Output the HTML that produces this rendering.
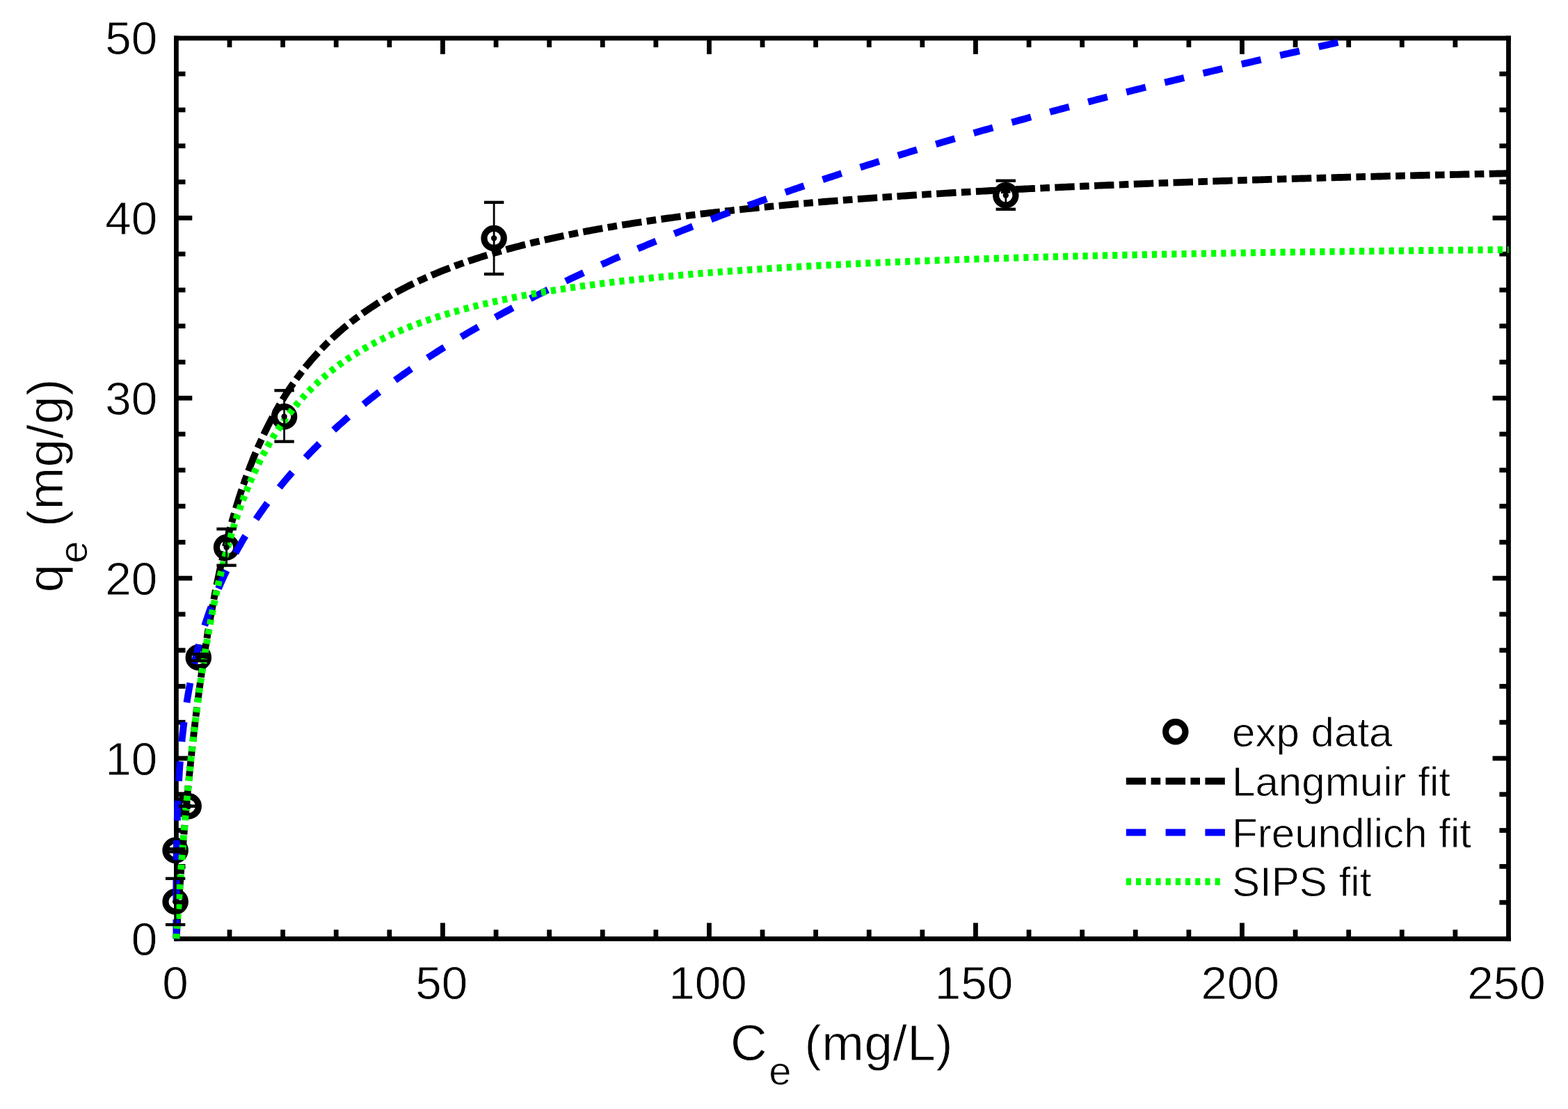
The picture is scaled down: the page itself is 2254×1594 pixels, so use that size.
<!DOCTYPE html>
<html lang="en"><head><meta charset="utf-8"><title>Adsorption isotherm</title>
<style>html,body{margin:0;padding:0;background:#fff}body{width:2254px;height:1594px;overflow:hidden}svg{display:block}text{font-family:"Liberation Sans",Arial,Helvetica,sans-serif;fill:#000;stroke:#fff;stroke-width:0.8px}</style>
</head><body>
<svg width="2254" height="1594" viewBox="0 0 2254 1594">
<rect x="0" y="0" width="2254" height="1594" fill="#fff"/>
<g id="axes" fill="#000" stroke="none">
<rect x="250.00" y="51.50" width="1921.90" height="6.80"/>
<rect x="250.00" y="1346.00" width="1921.90" height="6.80"/>
<rect x="250.00" y="51.50" width="6.80" height="1301.30"/>
<rect x="2165.10" y="51.50" width="6.80" height="1301.30"/>
<rect x="326.60" y="1336.30" width="6.80" height="10.70"/>
<rect x="326.60" y="57.30" width="6.80" height="10.70"/>
<rect x="403.21" y="1336.30" width="6.80" height="10.70"/>
<rect x="403.21" y="57.30" width="6.80" height="10.70"/>
<rect x="479.81" y="1336.30" width="6.80" height="10.70"/>
<rect x="479.81" y="57.30" width="6.80" height="10.70"/>
<rect x="556.42" y="1336.30" width="6.80" height="10.70"/>
<rect x="556.42" y="57.30" width="6.80" height="10.70"/>
<rect x="633.02" y="1326.50" width="6.80" height="20.50"/>
<rect x="633.02" y="57.30" width="6.80" height="20.50"/>
<rect x="709.62" y="1336.30" width="6.80" height="10.70"/>
<rect x="709.62" y="57.30" width="6.80" height="10.70"/>
<rect x="786.23" y="1336.30" width="6.80" height="10.70"/>
<rect x="786.23" y="57.30" width="6.80" height="10.70"/>
<rect x="862.83" y="1336.30" width="6.80" height="10.70"/>
<rect x="862.83" y="57.30" width="6.80" height="10.70"/>
<rect x="939.44" y="1336.30" width="6.80" height="10.70"/>
<rect x="939.44" y="57.30" width="6.80" height="10.70"/>
<rect x="1016.04" y="1326.50" width="6.80" height="20.50"/>
<rect x="1016.04" y="57.30" width="6.80" height="20.50"/>
<rect x="1092.64" y="1336.30" width="6.80" height="10.70"/>
<rect x="1092.64" y="57.30" width="6.80" height="10.70"/>
<rect x="1169.25" y="1336.30" width="6.80" height="10.70"/>
<rect x="1169.25" y="57.30" width="6.80" height="10.70"/>
<rect x="1245.85" y="1336.30" width="6.80" height="10.70"/>
<rect x="1245.85" y="57.30" width="6.80" height="10.70"/>
<rect x="1322.46" y="1336.30" width="6.80" height="10.70"/>
<rect x="1322.46" y="57.30" width="6.80" height="10.70"/>
<rect x="1399.06" y="1326.50" width="6.80" height="20.50"/>
<rect x="1399.06" y="57.30" width="6.80" height="20.50"/>
<rect x="1475.66" y="1336.30" width="6.80" height="10.70"/>
<rect x="1475.66" y="57.30" width="6.80" height="10.70"/>
<rect x="1552.27" y="1336.30" width="6.80" height="10.70"/>
<rect x="1552.27" y="57.30" width="6.80" height="10.70"/>
<rect x="1628.87" y="1336.30" width="6.80" height="10.70"/>
<rect x="1628.87" y="57.30" width="6.80" height="10.70"/>
<rect x="1705.48" y="1336.30" width="6.80" height="10.70"/>
<rect x="1705.48" y="57.30" width="6.80" height="10.70"/>
<rect x="1782.08" y="1326.50" width="6.80" height="20.50"/>
<rect x="1782.08" y="57.30" width="6.80" height="20.50"/>
<rect x="1858.68" y="1336.30" width="6.80" height="10.70"/>
<rect x="1858.68" y="57.30" width="6.80" height="10.70"/>
<rect x="1935.29" y="1336.30" width="6.80" height="10.70"/>
<rect x="1935.29" y="57.30" width="6.80" height="10.70"/>
<rect x="2011.89" y="1336.30" width="6.80" height="10.70"/>
<rect x="2011.89" y="57.30" width="6.80" height="10.70"/>
<rect x="2088.50" y="1336.30" width="6.80" height="10.70"/>
<rect x="2088.50" y="57.30" width="6.80" height="10.70"/>
<rect x="255.80" y="1293.72" width="10.70" height="6.80"/>
<rect x="2155.40" y="1293.72" width="10.70" height="6.80"/>
<rect x="255.80" y="1241.94" width="10.70" height="6.80"/>
<rect x="2155.40" y="1241.94" width="10.70" height="6.80"/>
<rect x="255.80" y="1190.16" width="10.70" height="6.80"/>
<rect x="2155.40" y="1190.16" width="10.70" height="6.80"/>
<rect x="255.80" y="1138.38" width="10.70" height="6.80"/>
<rect x="2155.40" y="1138.38" width="10.70" height="6.80"/>
<rect x="255.80" y="1086.60" width="20.50" height="6.80"/>
<rect x="2145.60" y="1086.60" width="20.50" height="6.80"/>
<rect x="255.80" y="1034.82" width="10.70" height="6.80"/>
<rect x="2155.40" y="1034.82" width="10.70" height="6.80"/>
<rect x="255.80" y="983.04" width="10.70" height="6.80"/>
<rect x="2155.40" y="983.04" width="10.70" height="6.80"/>
<rect x="255.80" y="931.26" width="10.70" height="6.80"/>
<rect x="2155.40" y="931.26" width="10.70" height="6.80"/>
<rect x="255.80" y="879.48" width="10.70" height="6.80"/>
<rect x="2155.40" y="879.48" width="10.70" height="6.80"/>
<rect x="255.80" y="827.70" width="20.50" height="6.80"/>
<rect x="2145.60" y="827.70" width="20.50" height="6.80"/>
<rect x="255.80" y="775.92" width="10.70" height="6.80"/>
<rect x="2155.40" y="775.92" width="10.70" height="6.80"/>
<rect x="255.80" y="724.14" width="10.70" height="6.80"/>
<rect x="2155.40" y="724.14" width="10.70" height="6.80"/>
<rect x="255.80" y="672.36" width="10.70" height="6.80"/>
<rect x="2155.40" y="672.36" width="10.70" height="6.80"/>
<rect x="255.80" y="620.58" width="10.70" height="6.80"/>
<rect x="2155.40" y="620.58" width="10.70" height="6.80"/>
<rect x="255.80" y="568.80" width="20.50" height="6.80"/>
<rect x="2145.60" y="568.80" width="20.50" height="6.80"/>
<rect x="255.80" y="517.02" width="10.70" height="6.80"/>
<rect x="2155.40" y="517.02" width="10.70" height="6.80"/>
<rect x="255.80" y="465.24" width="10.70" height="6.80"/>
<rect x="2155.40" y="465.24" width="10.70" height="6.80"/>
<rect x="255.80" y="413.46" width="10.70" height="6.80"/>
<rect x="2155.40" y="413.46" width="10.70" height="6.80"/>
<rect x="255.80" y="361.68" width="10.70" height="6.80"/>
<rect x="2155.40" y="361.68" width="10.70" height="6.80"/>
<rect x="255.80" y="309.90" width="20.50" height="6.80"/>
<rect x="2145.60" y="309.90" width="20.50" height="6.80"/>
<rect x="255.80" y="258.12" width="10.70" height="6.80"/>
<rect x="2155.40" y="258.12" width="10.70" height="6.80"/>
<rect x="255.80" y="206.34" width="10.70" height="6.80"/>
<rect x="2155.40" y="206.34" width="10.70" height="6.80"/>
<rect x="255.80" y="154.56" width="10.70" height="6.80"/>
<rect x="2155.40" y="154.56" width="10.70" height="6.80"/>
<rect x="255.80" y="102.78" width="10.70" height="6.80"/>
<rect x="2155.40" y="102.78" width="10.70" height="6.80"/>
</g>
<g id="xticklabels" font-size="67.4" text-anchor="middle">
<text x="252.00" y="1436.30">0</text>
<text x="634.70" y="1436.30">50</text>
<text x="1017.40" y="1436.30">100</text>
<text x="1400.10" y="1436.30">150</text>
<text x="1782.80" y="1436.30">200</text>
<text x="2165.50" y="1436.30">250</text>
</g>
<g id="yticklabels" font-size="67.4" text-anchor="end">
<text x="226.30" y="1372.60">0</text>
<text x="226.30" y="1113.70">10</text>
<text x="226.30" y="854.80">20</text>
<text x="226.30" y="595.90">30</text>
<text x="226.30" y="337.00">40</text>
<text x="226.30" y="78.10">50</text>
</g>
<text id="xlabel" x="1210.00" y="1523.70" font-size="72.8" letter-spacing="0.5" text-anchor="middle">C<tspan font-size="58" dx="2" dy="35">e</tspan><tspan dx="-2" dy="-35"> (mg/L)</tspan></text>
<text id="ylabel" transform="translate(90.30 697.70) rotate(-90)" font-size="72.8" letter-spacing="0.5" text-anchor="middle">q<tspan font-size="58" dx="0.7" dy="35">e</tspan><tspan dx="-1" dy="-35"> (mg/g)</tspan></text>
<g id="markers" stroke="#000" stroke-width="9.1" fill="none">
<circle cx="252.1" cy="1296.0" r="14.2"/>
<circle cx="252.1" cy="1222.3" r="14.2"/>
<circle cx="271.2" cy="1158.8" r="14.2"/>
<circle cx="285.3" cy="944.9" r="14.2"/>
<circle cx="325.6" cy="786.8" r="14.2"/>
<circle cx="408.6" cy="598.7" r="14.2"/>
<circle cx="710.1" cy="342.4" r="14.2"/>
<circle cx="1445.8" cy="280.8" r="14.2"/>
</g>
<g id="curves" stroke="none">
<path id="langmuir" fill="#000" d="M258.4 1348.7L258.6 1345.2L258.9 1341.6L259.1 1338.1L259.3 1334.6L259.5 1331.0L259.8 1327.5L260.0 1323.9L260.2 1320.4L250.4 1319.7L250.1 1323.3L249.9 1326.8L249.7 1330.4L249.4 1333.9L249.2 1337.5L249.0 1341.0L248.7 1344.5L248.5 1348.1ZM260.7 1313.0L261.0 1309.6L261.2 1306.2L261.4 1302.8L261.7 1299.5L251.8 1298.8L251.6 1302.2L251.3 1305.6L251.1 1309.0L250.9 1312.3ZM262.2 1292.1L262.4 1288.5L262.7 1285.0L262.9 1281.5L263.2 1277.9L263.4 1274.4L263.7 1270.9L264.0 1267.3L264.2 1263.8L254.4 1263.0L254.1 1266.6L253.8 1270.1L253.6 1273.7L253.3 1277.2L253.1 1280.8L252.8 1284.3L252.6 1287.8L252.3 1291.4ZM264.8 1256.4L265.0 1253.0L265.3 1249.6L265.5 1246.2L265.8 1242.9L255.9 1242.1L255.7 1245.5L255.4 1248.9L255.2 1252.3L254.9 1255.7ZM266.4 1235.5L266.7 1231.9L266.9 1228.4L267.2 1224.9L267.5 1221.3L267.8 1217.8L268.1 1214.3L268.4 1210.7L268.7 1207.2L258.8 1206.4L258.5 1209.9L258.2 1213.5L257.9 1217.0L257.6 1220.5L257.4 1224.1L257.1 1227.6L256.8 1231.2L256.5 1234.7ZM269.3 1199.8L269.6 1196.4L269.8 1193.1L270.1 1189.7L270.4 1186.3L260.6 1185.4L260.3 1188.8L260.0 1192.2L259.7 1195.6L259.4 1199.0ZM271.1 1178.9L271.4 1175.4L271.7 1171.9L272.0 1168.3L272.3 1164.8L272.6 1161.3L273.0 1157.7L273.3 1154.2L273.6 1150.7L263.8 1149.8L263.4 1153.3L263.1 1156.8L262.8 1160.4L262.5 1163.9L262.1 1167.4L261.8 1171.0L261.5 1174.5L261.2 1178.1ZM274.3 1143.3L274.6 1139.9L274.9 1136.5L275.3 1133.2L275.6 1129.8L265.7 1128.8L265.4 1132.2L265.1 1135.6L264.8 1139.0L264.4 1142.4ZM276.3 1122.4L276.7 1118.9L277.0 1115.4L277.4 1111.8L277.7 1108.3L278.1 1104.8L278.5 1101.3L278.8 1097.7L279.2 1094.2L269.4 1093.2L269.0 1096.7L268.6 1100.2L268.3 1103.8L267.9 1107.3L267.5 1110.9L267.2 1114.4L266.8 1117.9L266.5 1121.5ZM280.0 1086.9L280.3 1083.5L280.7 1080.1L281.1 1076.7L281.4 1073.4L271.6 1072.3L271.2 1075.7L270.9 1079.0L270.5 1082.4L270.1 1085.8ZM282.3 1066.0L282.7 1062.5L283.1 1059.0L283.5 1055.4L283.9 1051.9L284.3 1048.4L284.7 1044.9L285.1 1041.4L285.5 1037.8L275.7 1036.7L275.3 1040.2L274.9 1043.7L274.4 1047.3L274.0 1050.8L273.6 1054.3L273.2 1057.8L272.8 1061.4L272.4 1064.9ZM286.4 1030.5L286.8 1027.1L287.3 1023.8L287.7 1020.4L288.1 1017.0L278.3 1015.8L277.8 1019.2L277.4 1022.5L277.0 1025.9L276.6 1029.3ZM289.0 1009.7L289.5 1006.2L289.9 1002.7L290.4 999.2L290.9 995.7L291.3 992.1L291.8 988.6L292.3 985.1L292.8 981.6L283.0 980.2L282.5 983.8L282.0 987.3L281.5 990.8L281.1 994.3L280.6 997.9L280.1 1001.4L279.7 1004.9L279.2 1008.4ZM293.8 974.3L294.3 970.9L294.7 967.6L295.2 964.2L295.7 960.8L285.9 959.4L285.4 962.8L284.9 966.2L284.5 969.5L284.0 972.9ZM296.8 953.5L297.3 950.0L297.8 946.5L298.4 943.0L298.9 939.5L299.5 936.0L300.0 932.5L300.6 929.0L301.1 925.5L291.3 924.0L290.8 927.5L290.2 931.0L289.7 934.5L289.1 938.0L288.6 941.5L288.1 945.1L287.5 948.6L287.0 952.1ZM302.3 918.2L302.9 914.9L303.4 911.6L304.0 908.2L304.5 904.9L294.8 903.2L294.2 906.6L293.6 909.9L293.1 913.3L292.5 916.6ZM305.8 897.6L306.4 894.1L307.0 890.6L307.6 887.1L308.3 883.6L308.9 880.2L309.5 876.7L310.2 873.2L310.8 869.7L301.1 867.9L300.5 871.4L299.8 874.9L299.2 878.4L298.5 881.9L297.9 885.4L297.3 888.9L296.7 892.4L296.0 895.9ZM312.2 862.5L312.9 859.1L313.5 855.8L314.2 852.5L314.9 849.2L305.1 847.2L304.5 850.6L303.8 853.9L303.2 857.2L302.5 860.6ZM316.3 841.9L317.0 838.5L317.8 835.0L318.5 831.5L319.2 828.1L320.0 824.6L320.7 821.2L321.5 817.7L322.3 814.3L312.6 812.1L311.8 815.6L311.1 819.0L310.3 822.5L309.6 826.0L308.8 829.5L308.1 833.0L307.4 836.5L306.6 839.9ZM323.9 807.1L324.7 803.8L325.5 800.5L326.2 797.2L327.0 793.9L317.4 791.6L316.6 794.9L315.8 798.2L315.0 801.5L314.3 804.9ZM328.8 786.7L329.6 783.3L330.5 779.9L331.4 776.4L332.3 773.0L333.2 769.6L334.1 766.2L335.0 762.8L335.9 759.4L326.3 756.8L325.4 760.2L324.5 763.6L323.6 767.1L322.7 770.5L321.8 774.0L320.9 777.4L320.0 780.9L319.2 784.4ZM337.9 752.3L338.8 749.0L339.7 745.7L340.6 742.5L341.6 739.2L332.1 736.5L331.1 739.7L330.2 743.0L329.2 746.3L328.3 749.6ZM343.7 732.2L344.7 728.8L345.8 725.4L346.8 722.1L347.9 718.7L348.9 715.3L350.0 712.0L351.1 708.6L352.3 705.3L342.9 702.1L341.7 705.5L340.6 708.9L339.5 712.3L338.4 715.7L337.4 719.1L336.3 722.5L335.2 725.9L334.2 729.3ZM354.6 698.3L355.7 695.1L356.9 691.9L358.0 688.7L359.1 685.6L349.8 682.2L348.7 685.4L347.5 688.6L346.4 691.9L345.3 695.1ZM361.7 678.7L362.9 675.4L364.2 672.1L365.5 668.8L366.8 665.5L368.1 662.2L369.4 659.0L370.7 655.7L372.1 652.5L363.0 648.6L361.6 651.9L360.2 655.2L358.9 658.5L357.6 661.9L356.3 665.2L355.0 668.5L353.7 671.9L352.4 675.2ZM375.0 645.7L376.3 642.6L377.7 639.5L379.1 636.5L380.5 633.4L371.5 629.3L370.1 632.4L368.7 635.5L367.3 638.6L365.9 641.8ZM383.6 626.8L385.1 623.6L386.7 620.4L388.2 617.3L389.8 614.1L391.4 611.0L393.0 607.9L394.6 604.7L396.3 601.6L387.6 596.9L385.9 600.1L384.2 603.3L382.6 606.5L381.0 609.6L379.4 612.8L377.8 616.1L376.2 619.3L374.7 622.5ZM399.8 595.2L401.5 592.3L403.1 589.3L404.8 586.4L406.5 583.5L398.0 578.5L396.3 581.4L394.6 584.4L392.9 587.4L391.2 590.4ZM410.3 577.3L412.2 574.3L414.0 571.3L415.9 568.3L417.8 565.4L419.8 562.5L421.7 559.5L423.7 556.7L425.7 553.8L417.6 548.1L415.6 551.0L413.5 554.0L411.5 557.0L409.6 560.0L407.6 563.0L405.7 566.0L403.8 569.0L401.9 572.1ZM430.0 547.8L431.9 545.1L434.0 542.4L436.0 539.7L438.0 537.1L430.2 531.0L428.1 533.7L426.0 536.5L424.0 539.2L421.9 542.0ZM442.6 531.3L444.8 528.6L447.0 525.9L449.3 523.2L451.5 520.5L453.8 517.9L456.2 515.3L458.5 512.7L460.9 510.1L453.6 503.3L451.2 506.0L448.8 508.7L446.4 511.4L444.0 514.1L441.7 516.8L439.4 519.6L437.1 522.3L434.8 525.1ZM465.9 504.7L468.2 502.3L470.6 499.9L472.9 497.6L475.3 495.2L468.4 488.1L466.0 490.5L463.5 493.0L461.1 495.4L458.7 497.9ZM480.6 490.1L483.2 487.7L485.7 485.4L488.4 483.0L491.0 480.7L493.6 478.4L496.3 476.1L499.0 473.9L501.7 471.6L495.4 464.0L492.6 466.3L489.9 468.6L487.2 470.9L484.4 473.3L481.8 475.6L479.1 478.1L476.4 480.5L473.8 482.9ZM507.4 467.0L510.0 465.0L512.7 462.9L515.4 460.9L518.1 458.9L512.2 450.9L509.4 453.0L506.7 455.1L503.9 457.2L501.2 459.3ZM524.0 454.6L526.8 452.5L529.7 450.5L532.6 448.6L535.5 446.6L538.4 444.7L541.4 442.7L544.3 440.8L547.3 439.0L542.1 430.6L539.0 432.5L536.0 434.4L533.0 436.4L530.0 438.4L527.0 440.4L524.1 442.4L521.1 444.4L518.2 446.5ZM553.6 435.1L556.5 433.4L559.4 431.7L562.3 430.0L565.2 428.3L560.3 419.7L557.3 421.4L554.4 423.2L551.4 424.9L548.4 426.7ZM571.6 424.8L574.7 423.1L577.8 421.4L580.9 419.8L584.0 418.2L587.1 416.6L590.3 415.0L593.4 413.4L596.6 411.9L592.3 403.0L589.1 404.5L585.9 406.1L582.7 407.7L579.5 409.4L576.3 411.0L573.1 412.7L570.0 414.4L566.8 416.1ZM603.2 408.7L606.3 407.3L609.4 405.9L612.4 404.5L615.5 403.2L611.5 394.1L608.4 395.5L605.3 396.9L602.1 398.3L599.0 399.8ZM622.2 400.2L625.5 398.9L628.7 397.5L632.0 396.2L635.3 394.8L638.5 393.5L641.8 392.2L645.1 390.9L648.4 389.7L644.9 380.4L641.5 381.7L638.2 383.0L634.9 384.3L631.6 385.6L628.2 387.0L624.9 388.4L621.6 389.7L618.3 391.1ZM655.3 387.1L658.4 385.9L661.6 384.8L664.8 383.6L668.0 382.5L664.7 373.2L661.5 374.3L658.3 375.5L655.1 376.6L651.8 377.8ZM674.9 380.1L678.3 379.0L681.6 377.9L685.0 376.8L688.3 375.7L691.7 374.6L695.1 373.5L698.4 372.5L701.8 371.4L698.9 362.0L695.5 363.0L692.1 364.1L688.7 365.2L685.3 366.2L681.9 367.3L678.5 368.5L675.1 369.6L671.7 370.7ZM708.9 369.3L712.1 368.3L715.4 367.4L718.6 366.4L721.9 365.5L719.2 356.0L715.9 356.9L712.6 357.9L709.3 358.8L706.0 359.8ZM728.9 363.5L732.4 362.6L735.8 361.7L739.2 360.8L742.6 359.8L746.0 359.0L749.4 358.1L752.9 357.2L756.3 356.3L753.9 346.7L750.4 347.6L747.0 348.5L743.5 349.4L740.1 350.3L736.6 351.2L733.2 352.1L729.7 353.0L726.3 354.0ZM763.4 354.6L766.7 353.8L770.0 353.0L773.3 352.2L776.6 351.4L774.4 341.8L771.1 342.5L767.7 343.3L764.4 344.1L761.1 344.9ZM783.8 349.8L787.3 349.0L790.7 348.2L794.2 347.4L797.6 346.7L801.1 345.9L804.5 345.2L808.0 344.4L811.5 343.7L809.4 334.0L806.0 334.8L802.5 335.5L799.0 336.2L795.5 337.0L792.0 337.8L788.6 338.5L785.1 339.3L781.6 340.1ZM818.7 342.2L822.0 341.6L825.3 340.9L828.7 340.2L832.0 339.6L830.1 329.9L826.7 330.5L823.4 331.2L820.1 331.9L816.7 332.5ZM839.2 338.2L842.7 337.5L846.2 336.9L849.7 336.2L853.1 335.6L856.6 334.9L860.1 334.3L863.6 333.7L867.1 333.1L865.4 323.3L861.9 323.9L858.4 324.6L854.9 325.2L851.4 325.8L847.9 326.5L844.4 327.1L840.9 327.8L837.4 328.5ZM874.4 331.8L877.7 331.2L881.1 330.7L884.4 330.1L887.7 329.5L886.1 319.8L882.8 320.3L879.4 320.9L876.0 321.5L872.7 322.0ZM895.0 328.3L898.5 327.8L902.0 327.2L905.5 326.7L909.0 326.1L912.5 325.6L916.0 325.0L919.5 324.5L923.0 324.0L921.6 314.2L918.0 314.7L914.5 315.2L911.0 315.8L907.5 316.3L904.0 316.9L900.5 317.4L896.9 318.0L893.4 318.6ZM930.3 322.9L933.7 322.4L937.0 321.9L940.4 321.4L943.8 320.9L942.4 311.1L939.0 311.6L935.6 312.1L932.3 312.6L928.9 313.1ZM951.1 319.9L954.6 319.4L958.1 318.9L961.6 318.5L965.1 318.0L968.6 317.5L972.1 317.0L975.7 316.6L979.2 316.1L977.9 306.3L974.4 306.8L970.8 307.2L967.3 307.7L963.8 308.2L960.3 308.6L956.8 309.1L953.2 309.6L949.7 310.1ZM986.5 315.2L989.9 314.8L993.2 314.3L996.6 313.9L1000.0 313.5L998.8 303.7L995.4 304.1L992.0 304.5L988.6 304.9L985.3 305.4ZM1007.3 312.6L1010.8 312.2L1014.3 311.7L1017.9 311.3L1021.4 310.9L1024.9 310.5L1028.4 310.1L1032.0 309.7L1035.5 309.3L1034.4 299.5L1030.8 299.9L1027.3 300.3L1023.8 300.7L1020.2 301.1L1016.7 301.5L1013.2 301.9L1009.6 302.3L1006.1 302.8ZM1042.8 308.5L1046.2 308.1L1049.6 307.7L1052.9 307.4L1056.3 307.0L1055.3 297.1L1051.9 297.5L1048.5 297.9L1045.1 298.3L1041.7 298.6ZM1063.7 306.2L1067.2 305.8L1070.7 305.5L1074.2 305.1L1077.8 304.7L1081.3 304.4L1084.8 304.0L1088.4 303.7L1091.9 303.3L1090.9 293.5L1087.4 293.8L1083.8 294.2L1080.3 294.5L1076.8 294.9L1073.2 295.2L1069.7 295.6L1066.2 296.0L1062.6 296.4ZM1099.2 302.6L1102.6 302.2L1106.0 301.9L1109.4 301.6L1112.8 301.3L1111.8 291.4L1108.4 291.7L1105.1 292.1L1101.7 292.4L1098.3 292.7ZM1120.1 300.6L1123.7 300.2L1127.2 299.9L1130.7 299.6L1134.2 299.3L1137.8 298.9L1141.3 298.6L1144.8 298.3L1148.4 298.0L1147.5 288.1L1144.0 288.5L1140.4 288.8L1136.9 289.1L1133.3 289.4L1129.8 289.7L1126.3 290.1L1122.7 290.4L1119.2 290.7ZM1155.7 297.4L1159.1 297.1L1162.5 296.8L1165.9 296.5L1169.3 296.2L1168.4 286.3L1165.1 286.6L1161.7 286.9L1158.3 287.2L1154.9 287.5ZM1176.6 295.6L1180.2 295.3L1183.7 295.0L1187.2 294.7L1190.8 294.4L1194.3 294.1L1197.9 293.8L1201.4 293.6L1204.9 293.3L1204.2 283.4L1200.6 283.7L1197.1 284.0L1193.5 284.3L1190.0 284.5L1186.4 284.8L1182.9 285.1L1179.4 285.4L1175.8 285.7ZM1212.3 292.7L1215.7 292.4L1219.1 292.2L1222.5 291.9L1225.9 291.7L1225.1 281.8L1221.7 282.1L1218.3 282.3L1214.9 282.6L1211.5 282.8ZM1233.2 291.1L1236.8 290.8L1240.3 290.6L1243.8 290.3L1247.4 290.1L1250.9 289.8L1254.4 289.6L1258.0 289.3L1261.5 289.1L1260.8 279.2L1257.3 279.4L1253.7 279.7L1250.2 279.9L1246.7 280.2L1243.1 280.5L1239.6 280.7L1236.0 281.0L1232.5 281.2ZM1268.9 288.5L1272.3 288.3L1275.7 288.1L1279.1 287.8L1282.5 287.6L1281.8 277.7L1278.4 278.0L1275.0 278.2L1271.6 278.4L1268.2 278.7ZM1289.8 287.1L1293.4 286.9L1296.9 286.6L1300.5 286.4L1304.0 286.2L1307.5 285.9L1311.1 285.7L1314.6 285.5L1318.2 285.2L1317.5 275.4L1314.0 275.6L1310.4 275.8L1306.9 276.0L1303.3 276.3L1299.8 276.5L1296.3 276.7L1292.7 277.0L1289.2 277.2ZM1325.5 284.8L1328.9 284.6L1332.3 284.3L1335.7 284.1L1339.1 283.9L1338.5 274.0L1335.1 274.3L1331.7 274.5L1328.3 274.7L1324.9 274.9ZM1346.5 283.5L1350.0 283.3L1353.6 283.0L1357.1 282.8L1360.7 282.6L1364.2 282.4L1367.7 282.2L1371.3 282.0L1374.8 281.8L1374.2 271.9L1370.7 272.1L1367.2 272.3L1363.6 272.5L1360.1 272.7L1356.5 273.0L1353.0 273.2L1349.4 273.4L1345.9 273.6ZM1382.2 281.4L1385.6 281.2L1389.0 281.0L1392.4 280.8L1395.8 280.6L1395.2 270.7L1391.8 270.9L1388.4 271.1L1385.0 271.3L1381.6 271.5ZM1403.2 280.2L1406.7 280.0L1410.2 279.8L1413.8 279.6L1417.3 279.4L1420.9 279.2L1424.4 279.0L1428.0 278.8L1431.5 278.7L1431.0 268.8L1427.4 269.0L1423.9 269.1L1420.3 269.3L1416.8 269.5L1413.2 269.7L1409.7 269.9L1406.2 270.1L1402.6 270.3ZM1438.9 278.3L1442.3 278.1L1445.7 277.9L1449.1 277.7L1452.5 277.6L1452.0 267.7L1448.6 267.9L1445.2 268.0L1441.8 268.2L1438.4 268.4ZM1459.8 277.2L1463.4 277.0L1466.9 276.8L1470.5 276.7L1474.0 276.5L1477.6 276.3L1481.1 276.1L1484.7 276.0L1488.2 275.8L1487.7 265.9L1484.2 266.1L1480.6 266.2L1477.1 266.4L1473.5 266.6L1470.0 266.8L1466.4 266.9L1462.9 267.1L1459.3 267.3ZM1495.6 275.4L1499.0 275.3L1502.4 275.1L1505.8 275.0L1509.2 274.8L1508.7 264.9L1505.3 265.1L1501.9 265.2L1498.5 265.4L1495.1 265.5ZM1516.6 274.4L1520.1 274.3L1523.6 274.1L1527.2 274.0L1530.7 273.8L1534.3 273.6L1537.8 273.5L1541.4 273.3L1544.9 273.2L1544.5 263.3L1540.9 263.4L1537.4 263.6L1533.8 263.7L1530.3 263.9L1526.7 264.1L1523.2 264.2L1519.6 264.4L1516.1 264.6ZM1552.3 272.8L1555.7 272.7L1559.1 272.5L1562.5 272.4L1565.9 272.2L1565.5 262.4L1562.1 262.5L1558.7 262.6L1555.3 262.8L1551.9 262.9ZM1573.3 271.9L1576.8 271.8L1580.4 271.6L1583.9 271.5L1587.5 271.3L1591.0 271.2L1594.6 271.0L1598.1 270.9L1601.6 270.7L1601.2 260.9L1597.7 261.0L1594.1 261.1L1590.6 261.3L1587.0 261.4L1583.5 261.6L1580.0 261.7L1576.4 261.9L1572.9 262.0ZM1609.0 270.4L1612.4 270.3L1615.8 270.2L1619.2 270.0L1622.6 269.9L1622.2 260.0L1618.8 260.1L1615.4 260.3L1612.0 260.4L1608.6 260.6ZM1630.0 269.6L1633.6 269.5L1637.1 269.3L1640.6 269.2L1644.2 269.1L1647.7 268.9L1651.3 268.8L1654.8 268.6L1658.4 268.5L1658.0 258.6L1654.5 258.8L1650.9 258.9L1647.4 259.0L1643.8 259.2L1640.3 259.3L1636.7 259.4L1633.2 259.6L1629.6 259.7ZM1665.8 268.2L1669.2 268.1L1672.6 268.0L1676.0 267.9L1679.4 267.7L1679.0 257.8L1675.6 258.0L1672.2 258.1L1668.8 258.2L1665.4 258.3ZM1686.7 267.5L1690.3 267.3L1693.8 267.2L1697.4 267.1L1700.9 266.9L1704.5 266.8L1708.0 266.7L1711.6 266.6L1715.1 266.4L1714.8 256.5L1711.2 256.7L1707.7 256.8L1704.1 256.9L1700.6 257.1L1697.0 257.2L1693.5 257.3L1689.9 257.4L1686.4 257.6ZM1722.5 266.2L1725.9 266.1L1729.3 265.9L1732.7 265.8L1736.1 265.7L1735.8 255.8L1732.4 255.9L1729.0 256.1L1725.6 256.2L1722.2 256.3ZM1743.5 265.5L1747.0 265.3L1750.6 265.2L1754.1 265.1L1757.7 265.0L1761.2 264.9L1764.8 264.8L1768.3 264.6L1771.9 264.5L1771.6 254.6L1768.0 254.7L1764.5 254.9L1760.9 255.0L1757.4 255.1L1753.8 255.2L1750.3 255.3L1746.7 255.4L1743.2 255.6ZM1779.3 264.3L1782.7 264.2L1786.1 264.1L1789.5 264.0L1792.9 263.8L1792.5 253.9L1789.1 254.1L1785.7 254.2L1782.3 254.3L1778.9 254.4ZM1800.2 263.6L1803.8 263.5L1807.3 263.4L1810.9 263.3L1814.4 263.2L1818.0 263.1L1821.5 262.9L1825.1 262.8L1828.6 262.7L1828.3 252.8L1824.8 252.9L1821.2 253.1L1817.7 253.2L1814.1 253.3L1810.6 253.4L1807.0 253.5L1803.5 253.6L1799.9 253.7ZM1836.0 262.5L1839.4 262.4L1842.8 262.3L1846.2 262.2L1849.6 262.1L1849.3 252.2L1845.9 252.3L1842.5 252.4L1839.1 252.5L1835.7 252.6ZM1857.0 261.9L1860.6 261.8L1864.1 261.7L1867.7 261.6L1871.2 261.5L1874.7 261.4L1878.3 261.3L1881.8 261.2L1885.4 261.1L1885.1 251.2L1881.6 251.3L1878.0 251.4L1874.5 251.5L1870.9 251.6L1867.4 251.7L1863.8 251.8L1860.3 251.9L1856.7 252.0ZM1892.8 260.9L1896.2 260.8L1899.6 260.7L1903.0 260.6L1906.4 260.5L1906.1 250.6L1902.7 250.7L1899.3 250.8L1895.9 250.9L1892.5 251.0ZM1913.8 260.3L1917.3 260.2L1920.9 260.1L1924.4 260.0L1928.0 259.9L1931.5 259.8L1935.1 259.7L1938.6 259.6L1942.2 259.5L1941.9 249.6L1938.3 249.7L1934.8 249.8L1931.2 249.9L1927.7 250.0L1924.1 250.1L1920.6 250.2L1917.0 250.3L1913.5 250.4ZM1949.6 259.3L1952.9 259.2L1956.3 259.1L1959.7 259.0L1963.1 258.9L1962.9 249.1L1959.5 249.1L1956.1 249.2L1952.7 249.3L1949.3 249.4ZM1970.5 258.8L1974.1 258.7L1977.6 258.6L1981.2 258.5L1984.7 258.4L1988.3 258.3L1991.8 258.2L1995.4 258.1L1998.9 258.0L1998.7 248.1L1995.1 248.2L1991.6 248.3L1988.0 248.4L1984.5 248.5L1980.9 248.6L1977.4 248.7L1973.8 248.8L1970.3 248.9ZM2006.3 257.9L2009.7 257.8L2013.1 257.7L2016.5 257.6L2019.9 257.5L2019.7 247.6L2016.3 247.7L2012.9 247.8L2009.5 247.9L2006.1 248.0ZM2027.3 257.3L2030.9 257.3L2034.4 257.2L2038.0 257.1L2041.5 257.0L2045.0 256.9L2048.6 256.8L2052.1 256.7L2055.7 256.7L2055.5 246.8L2051.9 246.8L2048.4 246.9L2044.8 247.0L2041.3 247.1L2037.7 247.2L2034.2 247.3L2030.6 247.4L2027.1 247.4ZM2063.1 256.5L2066.5 256.4L2069.9 256.3L2073.3 256.2L2076.7 256.2L2076.5 246.3L2073.1 246.4L2069.7 246.4L2066.3 246.5L2062.9 246.6ZM2084.1 256.0L2087.6 255.9L2091.2 255.8L2094.7 255.8L2098.3 255.7L2101.8 255.6L2105.4 255.5L2108.9 255.4L2112.5 255.4L2112.2 245.5L2108.7 245.5L2105.1 245.6L2101.6 245.7L2098.1 245.8L2094.5 245.9L2091.0 245.9L2087.4 246.0L2083.9 246.1ZM2119.9 255.2L2123.3 255.1L2126.7 255.1L2130.1 255.0L2133.5 254.9L2133.2 245.0L2129.8 245.1L2126.4 245.2L2123.0 245.2L2119.6 245.3ZM2140.9 254.7L2144.8 254.7L2148.8 254.6L2152.7 254.5L2156.7 254.4L2160.7 254.3L2164.6 254.2L2168.6 254.2L2168.4 244.3L2164.4 244.3L2160.5 244.4L2156.5 244.5L2152.5 244.6L2148.6 244.7L2144.6 244.8L2140.6 244.8Z"/>
<path id="freundlich" fill="#0000ff" d="M258.3 1349.4L258.4 1345.4L258.4 1341.4L258.4 1337.4L258.4 1333.4L258.4 1329.4L258.4 1325.4L258.4 1321.4L248.5 1321.4L248.5 1325.4L248.5 1329.4L248.5 1333.4L248.5 1337.4L248.5 1341.4L248.5 1345.4L248.5 1349.4ZM258.4 1293.1L258.4 1289.5L258.4 1286.0L258.4 1282.4L258.4 1278.9L258.4 1275.3L258.4 1271.7L258.4 1268.2L258.5 1264.6L248.6 1264.6L248.5 1268.1L248.5 1271.7L248.5 1275.3L248.5 1278.8L248.5 1282.4L248.5 1286.0L248.5 1289.5L248.5 1293.1ZM258.7 1236.3L258.7 1232.8L258.7 1229.2L258.8 1225.7L258.8 1222.1L258.9 1218.6L258.9 1215.0L259.0 1211.4L259.0 1207.9L249.1 1207.7L249.1 1211.3L249.0 1214.9L249.0 1218.4L248.9 1222.0L248.9 1225.6L248.8 1229.1L248.8 1232.7L248.8 1236.3ZM259.7 1179.6L259.8 1176.1L259.9 1172.5L260.0 1169.0L260.1 1165.4L260.2 1161.9L260.3 1158.3L260.5 1154.8L260.6 1151.2L250.7 1150.8L250.6 1154.4L250.4 1158.0L250.3 1161.5L250.2 1165.1L250.1 1168.7L250.0 1172.2L249.9 1175.8L249.8 1179.4ZM262.0 1123.0L262.2 1119.5L262.4 1115.9L262.6 1112.4L262.8 1108.9L263.1 1105.3L263.3 1101.8L263.6 1098.2L263.8 1094.7L254.0 1093.9L253.7 1097.5L253.4 1101.1L253.2 1104.6L253.0 1108.2L252.7 1111.8L252.5 1115.3L252.3 1118.9L252.1 1122.5ZM266.3 1066.6L266.6 1063.1L267.0 1059.6L267.4 1056.0L267.8 1052.5L268.2 1049.0L268.6 1045.5L269.0 1041.9L269.5 1038.4L259.6 1037.2L259.2 1040.7L258.8 1044.3L258.3 1047.9L257.9 1051.4L257.5 1055.0L257.2 1058.5L256.8 1062.1L256.4 1065.6ZM273.4 1010.6L273.9 1007.1L274.5 1003.6L275.1 1000.1L275.7 996.6L276.3 993.1L276.9 989.6L277.6 986.1L278.2 982.6L268.5 980.8L267.9 984.3L267.2 987.8L266.6 991.4L265.9 994.9L265.3 998.4L264.8 1001.9L264.2 1005.5L263.6 1009.0ZM284.0 955.1L284.9 951.7L285.7 948.2L286.5 944.8L287.4 941.4L288.2 937.9L289.1 934.5L290.0 931.1L291.0 927.7L281.4 925.1L280.5 928.5L279.5 932.0L278.6 935.5L277.8 939.0L276.9 942.4L276.0 945.9L275.2 949.4L274.4 952.9ZM298.9 900.8L300.0 897.4L301.1 894.0L302.3 890.7L303.4 887.3L304.6 884.0L305.7 880.7L306.9 877.4L308.2 874.0L298.9 870.6L297.6 874.0L296.4 877.3L295.2 880.7L294.0 884.1L292.9 887.5L291.7 890.9L290.6 894.3L289.5 897.7ZM318.5 848.0L319.9 844.7L321.3 841.5L322.8 838.2L324.2 835.0L325.7 831.8L327.2 828.6L328.7 825.4L330.2 822.2L321.3 817.9L319.7 821.2L318.2 824.4L316.7 827.7L315.2 830.9L313.7 834.2L312.3 837.5L310.8 840.8L309.4 844.1ZM343.0 797.2L344.7 794.1L346.4 791.0L348.1 788.0L349.9 784.9L351.6 781.8L353.4 778.8L355.2 775.7L357.0 772.7L348.6 767.6L346.7 770.7L344.9 773.8L343.1 776.9L341.3 780.0L339.5 783.1L337.7 786.2L336.0 789.4L334.3 792.5ZM372.1 749.1L374.1 746.1L376.1 743.2L378.1 740.3L380.1 737.4L382.2 734.5L384.2 731.6L386.3 728.8L388.4 725.9L380.4 720.1L378.3 722.9L376.2 725.9L374.1 728.8L372.0 731.7L370.0 734.6L367.9 737.6L365.9 740.6L363.9 743.5ZM405.6 703.7L407.8 701.0L410.0 698.2L412.3 695.5L414.6 692.8L416.9 690.1L419.2 687.4L421.5 684.7L423.8 682.1L416.4 675.5L414.0 678.2L411.7 680.9L409.3 683.7L407.0 686.4L404.7 689.2L402.4 691.9L400.1 694.7L397.9 697.5ZM442.7 661.3L445.2 658.7L447.6 656.2L450.1 653.6L452.6 651.1L455.1 648.6L457.6 646.1L460.1 643.6L462.6 641.1L455.7 634.0L453.1 636.6L450.6 639.1L448.0 641.6L445.5 644.2L443.0 646.7L440.5 649.3L438.0 651.9L435.6 654.5ZM483.0 621.8L485.6 619.4L488.3 617.0L490.9 614.6L493.6 612.3L496.2 609.9L498.9 607.6L501.5 605.3L504.2 603.0L497.8 595.5L495.1 597.8L492.4 600.1L489.7 602.5L487.0 604.9L484.3 607.3L481.6 609.6L479.0 612.1L476.3 614.5ZM525.9 585.0L528.6 582.7L531.4 580.5L534.2 578.3L537.0 576.1L539.7 573.9L542.5 571.8L545.4 569.6L548.2 567.4L542.2 559.6L539.3 561.7L536.5 563.9L533.7 566.1L530.8 568.3L528.0 570.5L525.2 572.8L522.4 575.0L519.6 577.3ZM570.8 550.6L573.7 548.6L576.5 546.5L579.4 544.4L582.3 542.4L585.2 540.4L588.1 538.3L591.1 536.3L594.0 534.3L588.4 526.1L585.4 528.2L582.5 530.2L579.6 532.2L576.6 534.3L573.7 536.4L570.8 538.4L567.9 540.5L565.0 542.6ZM617.4 518.6L620.4 516.6L623.3 514.7L626.3 512.8L629.3 510.9L632.3 509.0L635.3 507.1L638.3 505.2L641.3 503.3L636.1 494.9L633.0 496.8L630.0 498.7L627.0 500.6L624.0 502.5L621.0 504.5L618.0 506.4L615.0 508.4L612.0 510.3ZM665.4 488.6L668.4 486.7L671.5 484.9L674.5 483.1L677.6 481.3L680.7 479.5L683.7 477.7L686.8 476.0L689.9 474.2L685.0 465.6L681.9 467.4L678.8 469.2L675.7 471.0L672.6 472.8L669.5 474.6L666.4 476.4L663.4 478.2L660.3 480.1ZM714.5 460.4L717.6 458.6L720.7 456.9L723.8 455.2L726.9 453.5L730.1 451.9L733.2 450.2L736.3 448.5L739.5 446.8L734.8 438.1L731.7 439.8L728.5 441.4L725.4 443.1L722.2 444.8L719.1 446.5L715.9 448.3L712.8 450.0L709.7 451.7ZM764.5 433.8L767.7 432.2L770.8 430.5L774.0 428.9L777.2 427.3L780.3 425.7L783.5 424.2L786.7 422.6L789.9 421.0L785.5 412.1L782.3 413.7L779.1 415.3L775.9 416.9L772.7 418.5L769.5 420.1L766.3 421.7L763.2 423.3L760.0 425.0ZM815.3 408.6L818.5 407.1L821.7 405.6L824.9 404.1L828.1 402.5L831.3 401.0L834.6 399.5L837.8 398.0L841.0 396.5L836.8 387.5L833.6 389.0L830.4 390.6L827.1 392.1L823.9 393.6L820.7 395.1L817.4 396.6L814.2 398.2L811.0 399.7ZM866.7 384.8L869.9 383.4L873.2 381.9L876.4 380.5L879.7 379.0L882.9 377.6L886.2 376.1L889.5 374.7L892.7 373.3L888.8 364.2L885.5 365.6L882.2 367.1L878.9 368.5L875.7 370.0L872.4 371.4L869.2 372.9L865.9 374.3L862.6 375.8ZM918.7 362.1L921.9 360.8L925.2 359.4L928.5 358.0L931.8 356.6L935.1 355.3L938.3 353.9L941.6 352.5L944.9 351.2L941.1 342.0L937.8 343.4L934.5 344.7L931.3 346.1L928.0 347.5L924.7 348.9L921.4 350.3L918.1 351.6L914.8 353.0ZM971.1 340.5L974.4 339.2L977.7 337.9L981.0 336.6L984.3 335.3L987.6 334.0L990.9 332.7L994.2 331.4L997.5 330.1L993.9 320.8L990.6 322.1L987.3 323.4L984.0 324.8L980.7 326.1L977.3 327.4L974.0 328.7L970.7 330.0L967.4 331.3ZM1023.9 319.9L1027.2 318.6L1030.6 317.4L1033.9 316.1L1037.2 314.8L1040.5 313.6L1043.9 312.3L1047.2 311.1L1050.5 309.9L1047.1 300.6L1043.7 301.8L1040.4 303.1L1037.1 304.3L1033.7 305.6L1030.4 306.8L1027.1 308.1L1023.7 309.4L1020.4 310.6ZM1077.1 300.1L1080.4 298.9L1083.8 297.7L1087.1 296.5L1090.5 295.3L1093.8 294.1L1097.2 292.9L1100.5 291.7L1103.9 290.5L1100.5 281.2L1097.2 282.4L1093.8 283.5L1090.5 284.7L1087.1 286.0L1083.8 287.2L1080.4 288.4L1077.0 289.6L1073.7 290.8ZM1130.5 281.1L1133.9 280.0L1137.3 278.8L1140.6 277.6L1144.0 276.5L1147.3 275.3L1150.7 274.2L1154.1 273.0L1157.5 271.9L1154.3 262.5L1150.9 263.6L1147.5 264.8L1144.1 266.0L1140.8 267.1L1137.4 268.3L1134.0 269.4L1130.7 270.6L1127.3 271.8ZM1184.2 262.9L1187.6 261.7L1191.0 260.6L1194.4 259.5L1197.8 258.4L1201.1 257.3L1204.5 256.2L1207.9 255.1L1211.3 254.0L1208.2 244.5L1204.8 245.7L1201.4 246.8L1198.1 247.9L1194.7 249.0L1191.3 250.1L1187.9 251.2L1184.5 252.3L1181.1 253.5ZM1238.2 245.3L1241.6 244.2L1245.0 243.1L1248.4 242.0L1251.8 241.0L1255.2 239.9L1258.5 238.8L1261.9 237.8L1265.3 236.7L1262.4 227.2L1259.0 228.3L1255.6 229.4L1252.2 230.5L1248.8 231.5L1245.4 232.6L1242.0 233.7L1238.6 234.8L1235.2 235.8ZM1292.3 228.3L1295.7 227.3L1299.1 226.2L1302.6 225.2L1306.0 224.1L1309.4 223.1L1312.8 222.1L1316.2 221.0L1319.6 220.0L1316.7 210.5L1313.3 211.6L1309.9 212.6L1306.5 213.6L1303.1 214.7L1299.7 215.7L1296.2 216.8L1292.8 217.8L1289.4 218.8ZM1346.7 211.9L1350.1 210.9L1353.5 209.9L1356.9 208.9L1360.3 207.9L1363.7 206.9L1367.2 205.9L1370.6 204.9L1374.0 203.9L1371.2 194.4L1367.8 195.4L1364.4 196.4L1361.0 197.4L1357.5 198.4L1354.1 199.4L1350.7 200.4L1347.3 201.4L1343.9 202.4ZM1401.2 196.0L1404.6 195.1L1408.0 194.1L1411.4 193.1L1414.9 192.1L1418.3 191.2L1421.7 190.2L1425.1 189.2L1428.6 188.3L1425.9 178.7L1422.4 179.7L1419.0 180.7L1415.6 181.6L1412.1 182.6L1408.7 183.6L1405.3 184.6L1401.9 185.5L1398.4 186.5ZM1455.8 180.7L1459.2 179.7L1462.7 178.8L1466.1 177.8L1469.5 176.9L1473.0 175.9L1476.4 175.0L1479.8 174.1L1483.3 173.1L1480.7 163.6L1477.2 164.5L1473.8 165.4L1470.3 166.4L1466.9 167.3L1463.5 168.3L1460.0 169.2L1456.6 170.2L1453.2 171.1ZM1510.6 165.7L1514.0 164.8L1517.4 163.9L1520.9 163.0L1524.3 162.1L1527.8 161.2L1531.2 160.2L1534.6 159.3L1538.1 158.4L1535.6 148.8L1532.1 149.8L1528.7 150.7L1525.2 151.6L1521.8 152.5L1518.3 153.4L1514.9 154.3L1511.4 155.3L1508.0 156.2ZM1565.4 151.3L1568.9 150.4L1572.3 149.5L1575.8 148.6L1579.2 147.7L1582.7 146.8L1586.1 145.9L1589.6 145.0L1593.0 144.1L1590.6 134.5L1587.1 135.4L1583.7 136.3L1580.2 137.2L1576.8 138.1L1573.3 139.0L1569.8 139.9L1566.4 140.8L1562.9 141.7ZM1620.4 137.2L1623.9 136.3L1627.3 135.4L1630.8 134.6L1634.2 133.7L1637.7 132.8L1641.1 132.0L1644.6 131.1L1648.1 130.2L1645.7 120.6L1642.2 121.5L1638.7 122.4L1635.3 123.2L1631.8 124.1L1628.4 125.0L1624.9 125.8L1621.5 126.7L1618.0 127.6ZM1675.5 123.5L1679.0 122.6L1682.4 121.8L1685.9 120.9L1689.3 120.1L1692.8 119.2L1696.3 118.4L1699.7 117.5L1703.2 116.7L1700.9 107.1L1697.4 107.9L1693.9 108.8L1690.5 109.6L1687.0 110.4L1683.5 111.3L1680.1 112.1L1676.6 113.0L1673.2 113.8ZM1730.7 110.1L1734.2 109.3L1737.6 108.4L1741.1 107.6L1744.5 106.8L1748.0 106.0L1751.5 105.2L1754.9 104.3L1758.4 103.5L1756.1 93.9L1752.7 94.7L1749.2 95.5L1745.7 96.3L1742.3 97.2L1738.8 98.0L1735.3 98.8L1731.9 99.6L1728.4 100.5ZM1785.9 97.1L1789.4 96.3L1792.9 95.5L1796.4 94.7L1799.8 93.9L1803.3 93.1L1806.8 92.3L1810.2 91.5L1813.7 90.7L1811.5 81.0L1808.0 81.8L1804.5 82.6L1801.1 83.4L1797.6 84.2L1794.1 85.0L1790.6 85.8L1787.2 86.6L1783.7 87.4ZM1841.3 84.4L1844.8 83.6L1848.2 82.8L1851.7 82.0L1855.2 81.2L1858.6 80.4L1862.1 79.7L1865.6 78.9L1869.1 78.1L1866.9 68.4L1863.4 69.2L1859.9 70.0L1856.5 70.8L1853.0 71.6L1849.5 72.4L1846.0 73.1L1842.6 73.9L1839.1 74.7ZM1896.7 72.0L1900.2 71.2L1903.6 70.4L1907.1 69.7L1910.6 68.9L1914.1 68.1L1917.5 67.4L1921.0 66.6L1924.5 65.8L1922.4 56.2L1918.9 56.9L1915.4 57.7L1911.9 58.5L1908.5 59.2L1905.0 60.0L1901.5 60.8L1898.0 61.5L1894.5 62.3Z"/>
<path id="sips" fill="#00ff00" d="M258.4 1349.4L258.6 1345.8L258.8 1342.3L248.9 1341.7L248.7 1345.2L248.5 1348.8ZM259.3 1335.2L259.5 1331.7L259.7 1328.1L249.8 1327.5L249.6 1331.0L249.4 1334.6ZM260.2 1321.1L260.4 1317.5L260.7 1314.0L250.8 1313.3L250.5 1316.9L250.3 1320.4ZM261.1 1306.9L261.4 1303.4L261.6 1299.8L251.7 1299.1L251.5 1302.7L251.2 1306.3ZM262.1 1292.8L262.3 1289.2L262.6 1285.6L252.7 1284.9L252.5 1288.5L252.2 1292.1ZM263.1 1278.6L263.3 1275.0L263.6 1271.5L253.7 1270.8L253.5 1274.3L253.2 1277.9ZM264.1 1264.5L264.4 1260.9L264.6 1257.3L254.8 1256.6L254.5 1260.2L254.2 1263.7ZM265.2 1250.3L265.4 1246.7L265.7 1243.2L255.8 1242.4L255.6 1246.0L255.3 1249.6ZM266.3 1236.2L266.5 1232.6L266.8 1229.0L256.9 1228.3L256.7 1231.8L256.4 1235.4ZM267.4 1222.0L267.7 1218.5L267.9 1214.9L258.1 1214.1L257.8 1217.7L257.5 1221.2ZM268.5 1207.9L268.8 1204.3L269.1 1200.8L259.2 1199.9L258.9 1203.5L258.7 1207.1ZM269.7 1193.7L270.0 1190.2L270.3 1186.6L260.4 1185.8L260.1 1189.3L259.8 1192.9ZM270.9 1179.6L271.2 1176.0L271.6 1172.5L261.7 1171.6L261.4 1175.2L261.1 1178.7ZM272.2 1165.5L272.5 1161.9L272.8 1158.4L263.0 1157.5L262.6 1161.0L262.3 1164.6ZM273.5 1151.3L273.8 1147.8L274.1 1144.2L264.3 1143.3L264.0 1146.9L263.6 1150.4ZM274.8 1137.2L275.2 1133.7L275.5 1130.1L265.7 1129.1L265.3 1132.7L265.0 1136.3ZM276.2 1123.1L276.6 1119.6L276.9 1116.0L267.1 1115.0L266.7 1118.6L266.3 1122.1ZM277.6 1109.0L278.0 1105.4L278.4 1101.9L268.5 1100.9L268.2 1104.4L267.8 1108.0ZM279.1 1094.9L279.5 1091.3L279.9 1087.8L270.0 1086.7L269.6 1090.3L269.3 1093.8ZM280.6 1080.8L281.0 1077.2L281.4 1073.7L271.6 1072.6L271.2 1076.1L270.8 1079.7ZM282.2 1066.7L282.6 1063.2L283.0 1059.6L273.2 1058.5L272.8 1062.0L272.4 1065.6ZM283.9 1052.6L284.3 1049.1L284.7 1045.5L274.9 1044.3L274.5 1047.9L274.0 1051.4ZM285.6 1038.5L286.0 1035.0L286.4 1031.5L276.6 1030.2L276.2 1033.8L275.7 1037.3ZM287.3 1024.5L287.8 1020.9L288.2 1017.4L278.4 1016.1L278.0 1019.7L277.5 1023.2ZM289.2 1010.4L289.6 1006.9L290.1 1003.3L280.3 1002.0L279.8 1005.6L279.3 1009.1ZM291.1 996.4L291.5 992.8L292.0 989.3L282.2 987.9L281.7 991.5L281.3 995.0ZM293.0 982.3L293.5 978.8L294.1 975.3L284.3 973.8L283.7 977.4L283.2 980.9ZM295.1 968.3L295.6 964.8L296.2 961.3L286.4 959.8L285.8 963.3L285.3 966.8ZM297.2 954.3L297.8 950.8L298.3 947.3L288.6 945.7L288.0 949.2L287.4 952.8ZM299.5 940.3L300.0 936.8L300.6 933.3L290.9 931.7L290.3 935.2L289.7 938.7ZM301.8 926.3L302.4 922.8L303.0 919.3L293.2 917.6L292.6 921.2L292.0 924.7ZM304.2 912.4L304.8 908.9L305.5 905.4L295.7 903.6L295.1 907.1L294.5 910.7ZM306.7 898.5L307.4 895.0L308.1 891.5L298.3 889.6L297.7 893.1L297.0 896.6ZM309.4 884.5L310.1 881.1L310.8 877.6L301.1 875.6L300.4 879.1L299.7 882.7ZM312.2 870.7L312.9 867.2L313.6 863.7L303.9 861.7L303.2 865.2L302.5 868.7ZM315.1 856.8L315.8 853.3L316.6 849.9L306.9 847.7L306.1 851.2L305.4 854.7ZM318.1 843.0L318.9 839.5L319.7 836.1L310.0 833.8L309.2 837.3L308.4 840.8ZM321.3 829.2L322.1 825.8L322.9 822.3L313.3 820.0L312.5 823.4L311.6 826.9ZM324.6 815.5L325.5 812.0L326.4 808.6L316.8 806.1L315.9 809.6L315.0 813.1ZM328.1 801.8L329.1 798.3L330.0 794.9L320.4 792.3L319.5 795.8L318.6 799.3ZM331.8 788.1L332.8 784.7L333.8 781.3L324.3 778.6L323.3 782.0L322.3 785.5ZM335.7 774.6L336.7 771.2L337.8 767.8L328.3 764.9L327.3 768.3L326.2 771.8ZM339.8 761.1L340.9 757.7L342.0 754.3L332.6 751.3L331.5 754.7L330.4 758.1ZM344.2 747.6L345.3 744.3L346.4 740.9L337.1 737.7L335.9 741.1L334.8 744.5ZM348.7 734.3L349.9 730.9L351.1 727.6L341.8 724.2L340.6 727.6L339.4 731.0ZM353.5 721.0L354.8 717.7L356.1 714.4L346.8 710.8L345.6 714.2L344.3 717.5ZM358.6 707.9L360.0 704.6L361.3 701.3L352.2 697.5L350.8 700.9L349.5 704.2ZM364.0 694.9L365.4 691.6L366.9 688.4L357.8 684.4L356.4 687.7L354.9 691.0ZM369.7 682.0L371.2 678.8L372.7 675.6L363.8 671.3L362.2 674.6L360.7 677.9ZM375.8 669.3L377.3 666.1L378.9 663.0L370.1 658.5L368.5 661.7L366.9 664.9ZM382.1 656.8L383.8 653.6L385.5 650.5L376.8 645.8L375.1 649.0L373.4 652.1ZM388.9 644.4L390.6 641.4L392.4 638.3L383.9 633.3L382.0 636.4L380.2 639.6ZM396.0 632.3L397.8 629.3L399.7 626.3L391.3 621.0L389.4 624.1L387.5 627.2ZM403.5 620.5L405.4 617.5L407.4 614.6L399.3 609.0L397.2 612.0L395.2 615.0ZM411.4 608.9L413.5 606.0L415.5 603.2L407.6 597.3L405.5 600.2L403.3 603.2ZM419.7 597.6L421.9 594.9L424.1 592.1L416.4 585.9L414.1 588.7L411.9 591.6ZM428.5 586.7L430.8 584.0L433.1 581.3L425.6 574.9L423.2 577.6L420.9 580.4ZM437.7 576.1L440.0 573.5L442.4 570.9L435.2 564.2L432.8 566.8L430.3 569.5ZM447.3 565.9L449.7 563.4L452.2 560.9L445.3 553.9L442.7 556.4L440.2 559.0ZM457.2 556.1L459.8 553.7L462.4 551.3L455.8 544.0L453.1 546.4L450.5 548.9ZM467.6 546.7L470.3 544.4L473.0 542.2L466.7 534.6L463.9 536.9L461.1 539.3ZM478.4 537.8L481.1 535.6L483.9 533.4L477.9 525.6L475.0 527.8L472.2 530.0ZM489.5 529.2L492.3 527.1L495.2 525.1L489.5 517.0L486.5 519.1L483.6 521.3ZM500.9 521.1L503.8 519.1L506.8 517.2L501.4 508.9L498.3 510.9L495.3 512.9ZM512.6 513.4L515.6 511.6L518.6 509.7L513.5 501.3L510.4 503.1L507.4 505.1ZM524.6 506.2L527.7 504.4L530.8 502.7L525.9 494.0L522.8 495.8L519.6 497.6ZM536.9 499.3L540.0 497.6L543.1 496.0L538.6 487.2L535.4 488.9L532.2 490.6ZM549.3 492.8L552.5 491.3L555.7 489.7L551.4 480.8L548.1 482.4L544.9 484.0ZM562.0 486.7L565.2 485.2L568.4 483.8L564.4 474.8L561.1 476.2L557.8 477.7ZM574.8 481.0L578.1 479.6L581.4 478.2L577.6 469.1L574.2 470.5L570.9 471.9ZM587.8 475.6L591.1 474.3L594.4 473.0L590.8 463.7L587.5 465.1L584.1 466.4ZM601.0 470.5L604.3 469.2L607.6 468.0L604.3 458.7L600.9 460.0L597.5 461.2ZM614.2 465.7L617.6 464.5L620.9 463.4L617.8 454.0L614.3 455.2L610.9 456.3ZM627.6 461.2L630.9 460.1L634.3 459.0L631.3 449.5L627.9 450.6L624.5 451.8ZM641.0 456.9L644.4 455.9L647.8 454.8L645.0 445.4L641.6 446.4L638.1 447.4ZM654.5 452.9L658.0 451.9L661.4 450.9L658.7 441.4L655.3 442.4L651.8 443.4ZM668.1 449.1L671.6 448.2L675.0 447.3L672.5 437.7L669.0 438.6L665.6 439.5ZM681.8 445.5L685.3 444.6L688.7 443.8L686.3 434.2L682.9 435.0L679.4 435.9ZM695.5 442.1L699.0 441.3L702.5 440.5L700.2 430.9L696.7 431.7L693.2 432.5ZM709.3 438.9L712.8 438.2L716.2 437.4L714.1 427.7L710.6 428.5L707.1 429.3ZM723.1 435.9L726.6 435.2L730.1 434.4L728.1 424.7L724.6 425.5L721.0 426.2ZM737.0 433.0L740.5 432.3L743.9 431.6L742.0 421.9L738.5 422.6L735.0 423.3ZM750.8 430.3L754.3 429.6L757.8 429.0L756.0 419.3L752.5 419.9L749.0 420.6ZM764.8 427.7L768.3 427.1L771.8 426.5L770.1 416.7L766.5 417.3L763.0 418.0ZM778.7 425.3L782.2 424.7L785.7 424.1L784.1 414.3L780.6 414.9L777.0 415.5ZM792.7 422.9L796.2 422.4L799.7 421.8L798.2 412.0L794.6 412.6L791.1 413.2ZM806.7 420.7L810.2 420.2L813.7 419.6L812.2 409.8L808.7 410.4L805.1 410.9ZM820.7 418.6L824.2 418.1L827.7 417.6L826.3 407.8L822.8 408.3L819.2 408.8ZM834.7 416.6L838.2 416.1L841.7 415.6L840.4 405.8L836.9 406.3L833.3 406.8ZM848.7 414.7L852.3 414.2L855.8 413.7L854.5 403.9L851.0 404.4L847.4 404.8ZM862.8 412.8L866.3 412.4L869.8 411.9L868.6 402.1L865.1 402.6L861.5 403.0ZM876.8 411.1L880.4 410.6L883.9 410.2L882.7 400.4L879.2 400.8L875.6 401.2ZM890.9 409.4L894.4 409.0L898.0 408.6L896.9 398.7L893.3 399.1L889.8 399.6ZM905.0 407.8L908.5 407.4L912.1 407.0L911.0 397.2L907.5 397.6L903.9 397.9ZM919.1 406.3L922.6 405.9L926.2 405.5L925.2 395.7L921.6 396.0L918.0 396.4ZM933.2 404.8L936.7 404.4L940.3 404.1L939.3 394.2L935.7 394.6L932.2 394.9ZM947.3 403.4L950.8 403.0L954.4 402.7L953.5 392.8L949.9 393.2L946.3 393.5ZM961.4 402.0L965.0 401.7L968.5 401.4L967.6 391.5L964.0 391.8L960.5 392.2ZM975.5 400.7L979.1 400.4L982.6 400.1L981.8 390.2L978.2 390.5L974.6 390.9ZM989.7 399.5L993.2 399.2L996.8 398.9L995.9 389.0L992.4 389.3L988.8 389.6ZM1003.8 398.3L1007.3 398.0L1010.9 397.7L1010.1 387.8L1006.5 388.1L1003.0 388.4ZM1017.9 397.1L1021.5 396.8L1025.0 396.6L1024.3 386.7L1020.7 387.0L1017.1 387.2ZM1032.1 396.0L1035.6 395.7L1039.2 395.5L1038.4 385.6L1034.9 385.9L1031.3 386.1ZM1046.2 394.9L1049.8 394.7L1053.3 394.4L1052.6 384.5L1049.1 384.8L1045.5 385.1ZM1060.4 393.9L1063.9 393.7L1067.5 393.4L1066.8 383.5L1063.2 383.8L1059.7 384.0ZM1074.5 392.9L1078.1 392.7L1081.6 392.4L1081.0 382.6L1077.4 382.8L1073.8 383.0ZM1088.7 392.0L1092.2 391.7L1095.8 391.5L1095.2 381.6L1091.6 381.9L1088.0 382.1ZM1102.8 391.0L1106.4 390.8L1110.0 390.6L1109.3 380.7L1105.8 380.9L1102.2 381.2ZM1117.0 390.2L1120.6 389.9L1124.1 389.7L1123.5 379.8L1120.0 380.1L1116.4 380.3ZM1131.2 389.3L1134.7 389.1L1138.3 388.9L1137.7 379.0L1134.1 379.2L1130.6 379.4ZM1145.3 388.5L1148.9 388.3L1152.5 388.1L1151.9 378.2L1148.3 378.4L1144.8 378.6ZM1159.5 387.7L1163.1 387.5L1166.6 387.3L1166.1 377.4L1162.5 377.6L1158.9 377.8ZM1173.7 386.9L1177.2 386.7L1180.8 386.5L1180.3 376.6L1176.7 376.8L1173.1 377.0ZM1187.8 386.1L1191.4 386.0L1195.0 385.8L1194.5 375.9L1190.9 376.1L1187.3 376.3ZM1202.0 385.4L1205.6 385.2L1209.1 385.1L1208.7 375.2L1205.1 375.4L1201.5 375.5ZM1216.2 384.7L1219.7 384.6L1223.3 384.4L1222.8 374.5L1219.3 374.7L1215.7 374.8ZM1230.4 384.0L1233.9 383.9L1237.5 383.7L1237.0 373.8L1233.5 374.0L1229.9 374.2ZM1244.5 383.4L1248.1 383.2L1251.7 383.1L1251.2 373.2L1247.7 373.3L1244.1 373.5ZM1258.7 382.8L1262.3 382.6L1265.8 382.4L1265.4 372.6L1261.8 372.7L1258.3 372.9ZM1272.9 382.1L1276.5 382.0L1280.0 381.8L1279.6 371.9L1276.0 372.1L1272.5 372.2ZM1287.1 381.5L1290.6 381.4L1294.2 381.2L1293.8 371.4L1290.2 371.5L1286.7 371.6ZM1301.3 381.0L1304.8 380.8L1308.4 380.7L1308.0 370.8L1304.4 370.9L1300.9 371.1ZM1315.4 380.4L1319.0 380.3L1322.6 380.1L1322.2 370.2L1318.6 370.4L1315.0 370.5ZM1329.6 379.9L1333.2 379.7L1336.8 379.6L1336.4 369.7L1332.8 369.8L1329.2 370.0ZM1343.8 379.3L1347.4 379.2L1350.9 379.1L1350.6 369.2L1347.0 369.3L1343.4 369.4ZM1358.0 378.8L1361.6 378.7L1365.1 378.6L1364.8 368.7L1361.2 368.8L1357.6 368.9ZM1372.2 378.3L1375.7 378.2L1379.3 378.1L1379.0 368.2L1375.4 368.3L1371.8 368.4ZM1386.4 377.8L1389.9 377.7L1393.5 377.6L1393.2 367.7L1389.6 367.8L1386.0 367.9ZM1400.5 377.4L1404.1 377.2L1407.7 377.1L1407.4 367.2L1403.8 367.4L1400.2 367.5ZM1414.7 376.9L1418.3 376.8L1421.9 376.7L1421.6 366.8L1418.0 366.9L1414.4 367.0ZM1428.9 376.5L1432.5 376.4L1436.1 376.2L1435.8 366.3L1432.2 366.5L1428.6 366.6ZM1443.1 376.0L1446.7 375.9L1450.3 375.8L1450.0 365.9L1446.4 366.0L1442.8 366.1ZM1457.3 375.6L1460.9 375.5L1464.4 375.4L1464.2 365.5L1460.6 365.6L1457.0 365.7ZM1471.5 375.2L1475.1 375.1L1478.6 375.0L1478.4 365.1L1474.8 365.2L1471.2 365.3ZM1485.7 374.8L1489.3 374.7L1492.8 374.6L1492.6 364.7L1489.0 364.8L1485.4 364.9ZM1499.9 374.4L1503.4 374.3L1507.0 374.2L1506.8 364.3L1503.2 364.4L1499.6 364.5ZM1514.1 374.0L1517.6 373.9L1521.2 373.9L1521.0 364.0L1517.4 364.1L1513.8 364.1ZM1528.3 373.7L1531.8 373.6L1535.4 373.5L1535.2 363.6L1531.6 363.7L1528.0 363.8ZM1542.5 373.3L1546.0 373.2L1549.6 373.1L1549.4 363.2L1545.8 363.3L1542.2 363.4ZM1556.6 373.0L1560.2 372.9L1563.8 372.8L1563.6 362.9L1560.0 363.0L1556.4 363.1ZM1570.8 372.6L1574.4 372.5L1578.0 372.5L1577.8 362.6L1574.2 362.7L1570.6 362.7ZM1585.0 372.3L1588.6 372.2L1592.2 372.1L1592.0 362.2L1588.4 362.3L1584.8 362.4ZM1599.2 372.0L1602.8 371.9L1606.4 371.8L1606.2 361.9L1602.6 362.0L1599.0 362.1ZM1613.4 371.7L1617.0 371.6L1620.6 371.5L1620.4 361.6L1616.8 361.7L1613.2 361.8ZM1627.6 371.4L1631.2 371.3L1634.8 371.2L1634.6 361.3L1631.0 361.4L1627.4 361.5ZM1641.8 371.1L1645.4 371.0L1649.0 370.9L1648.8 361.0L1645.2 361.1L1641.6 361.2ZM1656.0 370.8L1659.6 370.7L1663.1 370.6L1663.0 360.7L1659.4 360.8L1655.8 360.9ZM1670.2 370.5L1673.8 370.4L1677.3 370.4L1677.2 360.5L1673.6 360.5L1670.0 360.6ZM1684.4 370.2L1688.0 370.2L1691.5 370.1L1691.4 360.2L1687.8 360.3L1684.2 360.3ZM1698.6 369.9L1702.2 369.9L1705.7 369.8L1705.6 359.9L1702.0 360.0L1698.4 360.1ZM1712.8 369.7L1716.4 369.6L1719.9 369.6L1719.8 359.7L1716.2 359.7L1712.6 359.8ZM1727.0 369.4L1730.6 369.4L1734.1 369.3L1733.9 359.4L1730.4 359.5L1726.8 359.5ZM1741.2 369.2L1744.7 369.1L1748.3 369.1L1748.1 359.2L1744.6 359.2L1741.0 359.3ZM1755.4 368.9L1758.9 368.9L1762.5 368.8L1762.3 358.9L1758.8 359.0L1755.2 359.0ZM1769.6 368.7L1773.1 368.6L1776.7 368.6L1776.5 358.7L1773.0 358.7L1769.4 358.8ZM1783.8 368.5L1787.3 368.4L1790.9 368.4L1790.7 358.5L1787.2 358.5L1783.6 358.6ZM1798.0 368.2L1801.5 368.2L1805.1 368.1L1804.9 358.2L1801.4 358.3L1797.8 358.3ZM1812.2 368.0L1815.7 368.0L1819.3 367.9L1819.2 358.0L1815.6 358.1L1812.0 358.1ZM1826.3 367.8L1829.9 367.7L1833.5 367.7L1833.4 357.8L1829.8 357.8L1826.2 357.9ZM1840.5 367.6L1844.1 367.5L1847.7 367.5L1847.6 357.6L1844.0 357.6L1840.4 357.7ZM1854.7 367.4L1858.3 367.3L1861.9 367.3L1861.8 357.4L1858.2 357.4L1854.6 357.5ZM1868.9 367.2L1872.5 367.1L1876.1 367.1L1876.0 357.2L1872.4 357.2L1868.8 357.3ZM1883.1 367.0L1886.7 366.9L1890.3 366.9L1890.2 357.0L1886.6 357.0L1883.0 357.1ZM1897.3 366.8L1900.9 366.7L1904.5 366.7L1904.4 356.8L1900.8 356.8L1897.2 356.9ZM1911.5 366.6L1915.1 366.6L1918.7 366.5L1918.6 356.6L1915.0 356.7L1911.4 356.7ZM1925.7 366.4L1929.3 366.4L1932.9 366.3L1932.8 356.4L1929.2 356.5L1925.6 356.5ZM1939.9 366.2L1943.5 366.2L1947.1 366.1L1947.0 356.2L1943.4 356.3L1939.8 356.3ZM1954.1 366.1L1957.7 366.0L1961.3 366.0L1961.2 356.1L1957.6 356.1L1954.0 356.2ZM1968.3 365.9L1971.9 365.8L1975.5 365.8L1975.4 355.9L1971.8 355.9L1968.2 356.0ZM1982.5 365.7L1986.1 365.7L1989.7 365.6L1989.6 355.7L1986.0 355.8L1982.4 355.8ZM1996.7 365.6L2000.3 365.5L2003.9 365.5L2003.8 355.6L2000.2 355.6L1996.6 355.7ZM2010.9 365.4L2014.5 365.4L2018.1 365.3L2018.0 355.4L2014.4 355.5L2010.8 355.5ZM2025.1 365.2L2028.7 365.2L2032.3 365.2L2032.2 355.3L2028.6 355.3L2025.0 355.3ZM2039.3 365.1L2042.9 365.0L2046.5 365.0L2046.4 355.1L2042.8 355.1L2039.2 355.2ZM2053.5 364.9L2057.1 364.9L2060.7 364.9L2060.6 355.0L2057.0 355.0L2053.4 355.0ZM2067.7 364.8L2071.3 364.7L2074.9 364.7L2074.8 354.8L2071.2 354.8L2067.6 354.9ZM2081.9 364.6L2085.5 364.6L2089.1 364.6L2089.0 354.7L2085.4 354.7L2081.8 354.7ZM2096.1 364.5L2099.7 364.5L2103.3 364.4L2103.2 354.5L2099.6 354.6L2096.0 354.6ZM2110.3 364.4L2113.9 364.3L2117.5 364.3L2117.4 354.4L2113.8 354.4L2110.2 354.5ZM2124.5 364.2L2128.1 364.2L2131.6 364.2L2131.6 354.3L2128.0 354.3L2124.4 354.3ZM2138.7 364.1L2142.3 364.1L2145.8 364.0L2145.8 354.1L2142.2 354.2L2138.6 354.2ZM2152.9 364.0L2156.5 363.9L2160.0 363.9L2160.0 354.0L2156.4 354.0L2152.8 354.1ZM2167.1 363.8L2168.5 363.8L2168.5 353.9L2167.0 353.9Z"/>
</g>
<g id="errorbars" fill="#000" stroke="none">
<rect x="250.7" y="1262.8" width="2.8" height="66.3"/>
<rect x="237.9" y="1260.6" width="28.4" height="4.3"/>
<rect x="237.9" y="1326.9" width="28.4" height="4.3"/>
<circle cx="252.1" cy="1296.0" r="4.2"/>
<rect x="250.7" y="1220.2" width="2.8" height="4.2"/>
<rect x="237.9" y="1218.0" width="28.4" height="4.3"/>
<rect x="237.9" y="1222.2" width="28.4" height="4.3"/>
<circle cx="252.1" cy="1222.3" r="4.2"/>
<rect x="269.8" y="1158.8" width="2.8" height="0.0"/>
<rect x="257.0" y="1156.6" width="28.4" height="4.3"/>
<rect x="257.0" y="1156.6" width="28.4" height="4.3"/>
<circle cx="271.2" cy="1158.8" r="4.2"/>
<rect x="283.9" y="940.1" width="2.8" height="9.6"/>
<rect x="271.1" y="938.0" width="28.4" height="4.3"/>
<rect x="271.1" y="947.6" width="28.4" height="4.3"/>
<circle cx="285.3" cy="944.9" r="4.2"/>
<rect x="324.2" y="760.4" width="2.8" height="52.2"/>
<rect x="311.4" y="758.2" width="28.4" height="4.3"/>
<rect x="311.4" y="810.5" width="28.4" height="4.3"/>
<circle cx="325.6" cy="786.8" r="4.2"/>
<rect x="407.2" y="561.3" width="2.8" height="73.3"/>
<rect x="394.4" y="559.1" width="28.4" height="4.3"/>
<rect x="394.4" y="632.5" width="28.4" height="4.3"/>
<circle cx="408.6" cy="598.7" r="4.2"/>
<rect x="708.7" y="290.8" width="2.8" height="103.1"/>
<rect x="695.9" y="288.7" width="28.4" height="4.3"/>
<rect x="695.9" y="391.8" width="28.4" height="4.3"/>
<circle cx="710.1" cy="342.4" r="4.2"/>
<rect x="1444.4" y="259.7" width="2.8" height="41.0"/>
<rect x="1431.6" y="257.6" width="28.4" height="4.3"/>
<rect x="1431.6" y="298.6" width="28.4" height="4.3"/>
<circle cx="1445.8" cy="280.8" r="4.2"/>
</g>
<g id="legend">
<circle cx="1689.8" cy="1051.8" r="14.2" stroke="#000" stroke-width="9.1" fill="none"/>
<path fill="#000" d="M1618.8 1127.8L1622.3 1127.8L1625.9 1127.8L1629.5 1127.8L1633.0 1127.8L1636.5 1127.8L1640.1 1127.8L1643.6 1127.8L1647.2 1127.8L1647.2 1117.8L1643.6 1117.8L1640.1 1117.8L1636.5 1117.8L1633.0 1117.8L1629.5 1117.8L1625.9 1117.8L1622.3 1117.8L1618.8 1117.8ZM1654.6 1127.8L1658.0 1127.8L1661.4 1127.8L1664.8 1127.8L1668.2 1127.8L1668.2 1117.8L1664.8 1117.8L1661.4 1117.8L1658.0 1117.8L1654.6 1117.8ZM1675.6 1127.8L1679.1 1127.8L1682.7 1127.8L1686.2 1127.8L1689.8 1127.8L1693.3 1127.8L1696.9 1127.8L1700.4 1127.8L1704.0 1127.8L1704.0 1117.8L1700.4 1117.8L1696.9 1117.8L1693.3 1117.8L1689.8 1117.8L1686.2 1117.8L1682.7 1117.8L1679.1 1117.8L1675.6 1117.8ZM1711.4 1127.8L1714.8 1127.8L1718.2 1127.8L1721.6 1127.8L1725.0 1127.8L1725.0 1117.8L1721.6 1117.8L1718.2 1117.8L1714.8 1117.8L1711.4 1117.8ZM1732.4 1127.8L1735.9 1127.8L1739.5 1127.8L1743.0 1127.8L1746.6 1127.8L1750.1 1127.8L1753.7 1127.8L1757.2 1127.8L1760.8 1127.8L1760.8 1117.8L1757.2 1117.8L1753.7 1117.8L1750.1 1117.8L1746.6 1117.8L1743.0 1117.8L1739.5 1117.8L1735.9 1117.8L1732.4 1117.8Z"/>
<path fill="#0000ff" d="M1618.8 1201.4L1622.4 1201.4L1625.9 1201.4L1629.5 1201.4L1633.0 1201.4L1636.6 1201.4L1640.2 1201.4L1643.7 1201.4L1647.3 1201.4L1647.3 1191.5L1643.7 1191.5L1640.2 1191.5L1636.6 1191.5L1633.0 1191.5L1629.5 1191.5L1625.9 1191.5L1622.4 1191.5L1618.8 1191.5ZM1675.6 1201.4L1679.2 1201.4L1682.7 1201.4L1686.3 1201.4L1689.8 1201.4L1693.4 1201.4L1697.0 1201.4L1700.5 1201.4L1704.1 1201.4L1704.1 1191.5L1700.5 1191.5L1697.0 1191.5L1693.4 1191.5L1689.8 1191.5L1686.3 1191.5L1682.7 1191.5L1679.2 1191.5L1675.6 1191.5ZM1732.4 1201.4L1736.0 1201.4L1739.5 1201.4L1743.1 1201.4L1746.6 1201.4L1750.2 1201.4L1753.8 1201.4L1757.3 1201.4L1760.9 1201.4L1760.9 1191.5L1757.3 1191.5L1753.8 1191.5L1750.2 1191.5L1746.6 1191.5L1743.1 1191.5L1739.5 1191.5L1736.0 1191.5L1732.4 1191.5Z"/>
<path fill="#00ff00" d="M1618.8 1272.2L1622.4 1272.2L1626.0 1272.2L1626.0 1262.3L1622.4 1262.3L1618.8 1262.3ZM1633.0 1272.2L1636.6 1272.2L1640.1 1272.2L1640.1 1262.3L1636.6 1262.3L1633.0 1262.3ZM1647.2 1272.2L1650.8 1272.2L1654.3 1272.2L1654.3 1262.3L1650.8 1262.3L1647.2 1262.3ZM1661.4 1272.2L1665.0 1272.2L1668.5 1272.2L1668.5 1262.3L1665.0 1262.3L1661.4 1262.3ZM1675.6 1272.2L1679.2 1272.2L1682.8 1272.2L1682.8 1262.3L1679.2 1262.3L1675.6 1262.3ZM1689.8 1272.2L1693.4 1272.2L1697.0 1272.2L1697.0 1262.3L1693.4 1262.3L1689.8 1262.3ZM1704.0 1272.2L1707.6 1272.2L1711.1 1272.2L1711.1 1262.3L1707.6 1262.3L1704.0 1262.3ZM1718.2 1272.2L1721.8 1272.2L1725.3 1272.2L1725.3 1262.3L1721.8 1262.3L1718.2 1262.3ZM1732.4 1272.2L1736.0 1272.2L1739.5 1272.2L1739.5 1262.3L1736.0 1262.3L1732.4 1262.3ZM1746.6 1272.2L1750.2 1272.2L1753.8 1272.2L1753.8 1262.3L1750.2 1262.3L1746.6 1262.3Z"/>
<g font-size="60.1">
<text x="1771" y="1073.1">exp data</text>
<text x="1771" y="1144.1">Langmuir fit</text>
<text x="1771" y="1217.8">Freundlich fit</text>
<text x="1771" y="1288.0">SIPS fit</text>
</g>
</g>
</svg>
</body></html>
